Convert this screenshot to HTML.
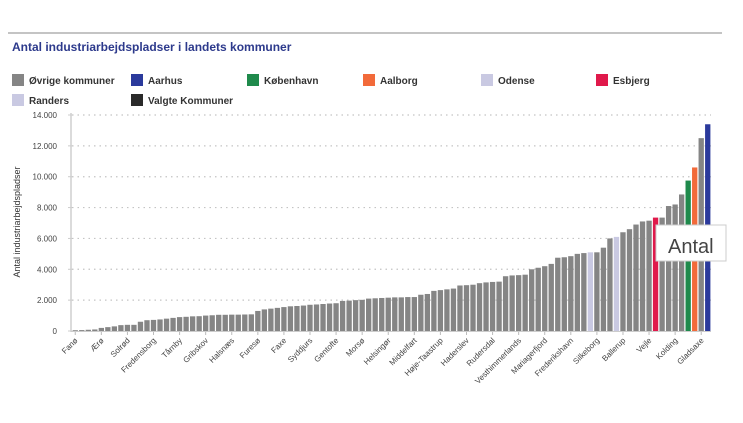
<!DOCTYPE html>
<html><head><meta charset="utf-8"><style>
body{margin:0;width:743px;height:423px;background:#fff;overflow:hidden;font-family:"Liberation Sans",sans-serif;}
svg{position:absolute;left:0;top:0}
</style></head><body>
<svg id="c" width="743" height="423">
<line x1="8" y1="33" x2="722" y2="33" stroke="#8a8a8a" stroke-width="1"/>
<text x="12" y="51" font-size="12" font-weight="bold" fill="#2d3a8c">Antal industriarbejdspladser i landets kommuner</text>
<g id="legend"></g>
<g id="grid"></g>
<g id="bars"></g>
<g id="xl"></g>
<text transform="translate(20,222) rotate(-90)" text-anchor="middle" font-size="9" fill="#333">Antal industriarbejdspladser</text>
<g>
<rect x="656" y="225" width="70" height="36" fill="#fff" stroke="#ccc"/>
<text x="668" y="253" font-size="20" fill="#444">Antal</text>
</g>
</svg>
<script>
const NS="http://www.w3.org/2000/svg";
const values=[0.05,0.06,0.08,0.1,0.2,0.25,0.3,0.38,0.4,0.4,0.6,0.7,0.72,0.75,0.8,0.85,0.9,0.92,0.95,0.96,1.0,1.02,1.05,1.05,1.06,1.06,1.07,1.08,1.3,1.4,1.45,1.5,1.55,1.6,1.62,1.65,1.7,1.72,1.75,1.78,1.8,1.95,1.97,2.0,2.02,2.1,2.12,2.14,2.16,2.18,2.18,2.2,2.2,2.35,2.4,2.6,2.65,2.7,2.75,2.95,2.97,3.0,3.1,3.15,3.18,3.2,3.55,3.6,3.62,3.65,4.0,4.1,4.2,4.35,4.75,4.78,4.85,5.0,5.05,5.1,5.1,5.4,6.0,6.1,6.4,6.6,6.9,7.1,7.15,7.35,7.35,8.1,8.2,8.85,9.75,10.6,12.5,13.4];
const highlightIdx=[79,83,89,94,95,97];
const highlightCat=["Odense","Randers","Esbjerg","København","Aalborg","Aarhus"];
const xLabels=["Fanø","Ærø","Solrød","Fredensborg","Tårnby","Gribskov","Halsnæs","Furesø","Faxe","Syddjurs","Gentofte","Morsø","Helsingør","Middelfart","Høje-Taastrup","Haderslev","Rudersdal","Vesthimmerlands","Mariagerfjord","Frederikshavn","Silkeborg","Ballerup","Vejle","Kolding","Gladsaxe"];
const yTicks=[0,2,4,6,8,10,12,14];
const legendNames=["Øvrige kommuner","Aarhus","København","Aalborg","Odense","Esbjerg","Randers","Valgte Kommuner"];
const colors={"Øvrige kommuner":"#858585","Aarhus":"#2b3a9c","København":"#1f8a4c","Aalborg":"#f26a3a","Odense":"#c9c9e2","Esbjerg":"#e0194b","Randers":"#c9c9e2","Valgte Kommuner":"#2a2a2a"};
const X0=72,X1=711,Y0=331,Y1=115,YMAX=14;
const n=values.length,step=(X1-X0)/n;
const ys=v=>Y0-(v/YMAX)*(Y0-Y1);
const xs=i=>X0+i*step;
function mk(t,a,p){const e=document.createElementNS(NS,t);for(const k in a)e.setAttribute(k,a[k]);p.appendChild(e);return e;}
// legend
const lg=document.getElementById('legend');
const lpos=[[12,80],[131,80],[247,80],[363,80],[481,80],[596,80],[12,100],[131,100]];
legendNames.forEach((nm,i)=>{const[x,y]=lpos[i];
 const r=mk('rect',{x:x,y:y-6,width:12,height:12,fill:colors[nm]},lg);
 
 
 const t=mk('text',{x:x+17,y:y+4,'font-size':10,'font-weight':'bold',fill:'#333'},lg);t.textContent=nm;
 
 
});
// grid
const g=document.getElementById('grid');
yTicks.forEach(v=>{const y=ys(v);
 if(v>0){const l=mk('line',{x1:X0,y1:y,x2:X1,y2:y,stroke:'#c4c4c4','stroke-dasharray':'1.5,4','stroke-width':1.2},g);
 
 }
 mk('line',{x1:X0-4,y1:y,x2:X0,y2:y,stroke:'#ccc'},g);
 const t=mk('text',{x:57,y:y+3,'text-anchor':'end','font-size':8,fill:'#444'},g);
 t.textContent=v===0?'0':(v+'.000');
 
 
});
const ax=mk('line',{x1:X0-1,y1:Y1-2,x2:X0-1,y2:Y0+1,stroke:'#cfcfcf','stroke-width':1.5},g);


// bars
const b=document.getElementById('bars');
values.forEach((v,i)=>{const h=highlightIdx.indexOf(i);
 const c=h>=0?colors[highlightCat[h]]:colors["Øvrige kommuner"];
 const r=mk('rect',{x:xs(i)+0.6,y:ys(v),width:step-1.2,height:Y0-ys(v),fill:c},b);
 
 
});
mk('line',{x1:X0-1,y1:Y0+0.5,x2:X1,y2:Y0+0.5,stroke:'#ccc'},b);
// x labels
const xl=document.getElementById('xl');
xLabels.forEach((nm,k)=>{const i=k*4;const x=xs(i)+step/2;
 mk('line',{x1:x,y1:Y0+1,x2:x,y2:Y0+4,stroke:'#bbb'},xl);
 const t=mk('text',{transform:`translate(${x+3},${Y0+10}) rotate(-45)`,'text-anchor':'end','font-size':8,fill:'#444'},xl);
 t.textContent=nm;
 
 
});
</script>
</body></html>
